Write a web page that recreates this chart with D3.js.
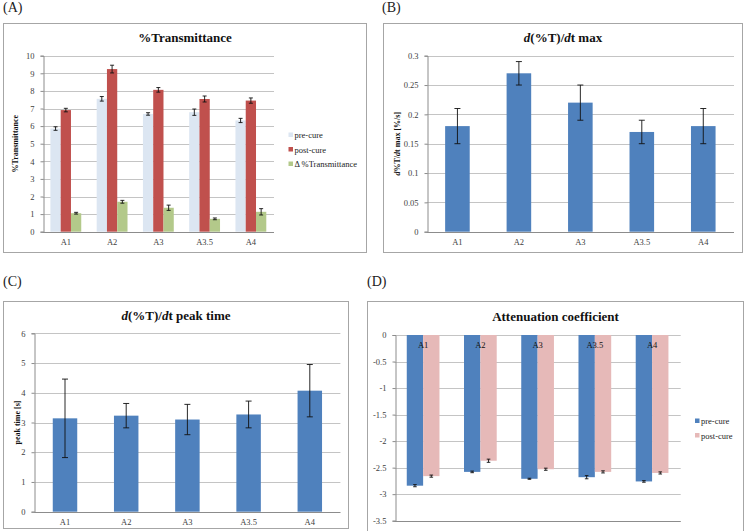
<!DOCTYPE html>
<html>
<head>
<meta charset="utf-8">
<script src="https://cdn.jsdelivr.net/npm/d3@7"></script>
<style>
  body { margin: 0; background: #fff; }
  svg text { font-family: "Liberation Serif", "DejaVu Serif", serif; }
</style>
</head>
<body>
<svg id="fig" width="747" height="531"></svg>
<script>
// categories shared by all four panels
const categories = ["A1", "A2", "A3", "A3.5", "A4"];

// (A) %Transmittance
const transPre = [5.86, 7.55, 6.69, 6.79, 6.32];
const transPreErr = [0.1, 0.13, 0.07, 0.18, 0.12];
const transPost = [6.91, 9.24, 8.06, 7.54, 7.45];
const transPostErr = [0.1, 0.22, 0.13, 0.17, 0.15];
const transDelta = [1.05, 1.7, 1.36, 0.73, 1.13];
const transDeltaErr = [0.05, 0.08, 0.15, 0.05, 0.18];
const ticksA = [0, 1, 2, 3, 4, 5, 6, 7, 8, 9, 10];

// (B) d(%T)/dt max
const dtMax = [0.18, 0.27, 0.22, 0.17, 0.18];
const dtMaxErr = [0.03, 0.02, 0.03, 0.02, 0.03];
const ticksB = [0, 0.05, 0.1, 0.15, 0.2, 0.25, 0.3];

// (C) d(%T)/dt peak time
const peakTime = [3.14, 3.23, 3.1, 3.27, 4.07];
const peakTimeErr = [1.32, 0.41, 0.51, 0.45, 0.88];
const ticksC = [0, 1, 2, 3, 4, 5, 6];

// (D) Attenuation coefficient
const attenPre = [-2.84, -2.58, -2.71, -2.68, -2.76];
const attenPreErr = [0.02, 0.015, 0.01, 0.03, 0.015];
const attenPost = [-2.66, -2.37, -2.53, -2.58, -2.6];
const attenPostErr = [0.02, 0.03, 0.02, 0.02, 0.02];
const ticksD = [0, -0.5, -1, -1.5, -2, -2.5, -3, -3.5];

const FONT = "Liberation Serif, DejaVu Serif, serif";
const GRID = "#c4c4c4";
const AXIS = "#8c8c8c";
const TXT = "#404040";

const svg = d3.select("#fig");
svg.append("rect").attr("width", 747).attr("height", 531).attr("fill", "#fff");

// draws one excel-like bar panel
function barPanel(p) {
    let g = svg.append("g").attr("font-family", FONT);

    // panel letter
    g.append("text")
        .attr("x", p.letter[0]).attr("y", p.letter[1])
        .attr("font-size", 14).attr("fill", "#222")
        .text(p.label);

    // chart frame
    g.append("rect")
        .attr("x", p.box.x).attr("y", p.box.y)
        .attr("width", p.box.w).attr("height", p.box.h)
        .attr("fill", "#fff").attr("stroke", "#a6a6a6").attr("stroke-width", 1);

    let yScale = d3.scaleLinear().domain(p.domain).range([p.plot.y1, p.plot.y0]);
    let x0 = d3.scaleBand().domain(categories).range([p.plot.x0, p.plot.x1]).padding(0);
    let names = p.series.map(s => s.name);
    let x1 = d3.scaleBand().domain(names).range([0, x0.bandwidth()])
        .paddingInner(0).paddingOuter(0.75);

    // gridlines
    g.append("g")
        .selectAll("line")
        .data(p.ticks)
        .join("line")
        .attr("x1", p.plot.x0).attr("x2", p.plot.x1)
        .attr("y1", d => Math.round(yScale(d)) + 0.5)
        .attr("y2", d => Math.round(yScale(d)) + 0.5)
        .attr("stroke", GRID).attr("stroke-width", 1);

    // y axis
    let yAxis = g.append("g")
        .attr("transform", `translate(${Math.round(p.plot.x0) + 0.5},0)`)
        .call(d3.axisLeft(yScale).tickValues(p.ticks).tickSize(3).tickPadding(6));
    yAxis.attr("font-family", FONT);
    yAxis.select(".domain").attr("stroke", AXIS);
    yAxis.selectAll(".tick line").attr("stroke", AXIS);
    yAxis.selectAll(".tick text")
        .attr("font-family", FONT).attr("font-size", 8.5).attr("fill", TXT)
        .text(d => d < 0 ? "-" + Math.abs(d) : d);

    // bars
    p.series.forEach(s => {
        g.append("g")
            .selectAll("rect")
            .data(categories)
            .join("rect")
            .attr("x", (d, i) => x0(d) + x1(s.name))
            .attr("y", (d, i) => Math.min(yScale(s.values[i]), yScale(0)))
            .attr("width", x1.bandwidth())
            .attr("height", (d, i) => Math.abs(yScale(s.values[i]) - yScale(0)))
            .attr("fill", s.color);
    });

    // x axis line at baseline (or bottom for negative chart)
    let baseY = Math.round(yScale(p.axisAt)) + 0.5;
    g.append("line")
        .attr("x1", p.plot.x0).attr("x2", p.plot.x1)
        .attr("y1", baseY).attr("y2", baseY)
        .attr("stroke", AXIS);

    // category labels
    g.append("g")
        .selectAll("text")
        .data(categories)
        .join("text")
        .attr("x", d => x0(d) + x0.bandwidth() / 2)
        .attr("y", p.catY)
        .attr("text-anchor", "middle")
        .attr("font-size", 8.5).attr("fill", p.catColor || TXT)
        .text(d => d);

    // error bars
    p.series.forEach(s => {
        let eb = g.append("g").attr("stroke", "#111").attr("stroke-width", 0.9);
        categories.forEach((c, i) => {
            let cx = x0(c) + x1(s.name) + x1.bandwidth() / 2;
            let hi = yScale(s.values[i] + s.err[i]);
            let lo = yScale(s.values[i] - s.err[i]);
            eb.append("line").attr("x1", cx).attr("x2", cx).attr("y1", hi).attr("y2", lo);
            eb.append("line").attr("x1", cx - p.cap).attr("x2", cx + p.cap).attr("y1", hi).attr("y2", hi);
            eb.append("line").attr("x1", cx - p.cap).attr("x2", cx + p.cap).attr("y1", lo).attr("y2", lo);
        });
    });

    // title
    let title = g.append("text")
        .attr("x", p.box.x + p.box.w / 2).attr("y", p.titleY)
        .attr("text-anchor", "middle")
        .attr("font-size", 13).attr("font-weight", "bold").attr("fill", "#111");
    p.title.forEach(part => {
        title.append("tspan").attr("font-style", part[1] ? "italic" : "normal").text(part[0]);
    });

    // y axis title
    if (p.yTitle) {
        let cy = (p.plot.y0 + p.plot.y1) / 2;
        let yt = g.append("text")
            .attr("transform", `translate(${p.yTitleX},${cy}) rotate(-90)`)
            .attr("text-anchor", "middle")
            .attr("font-size", 8).attr("font-weight", "bold").attr("fill", "#111");
        p.yTitle.forEach(part => {
            yt.append("tspan").attr("font-style", part[1] ? "italic" : "normal").text(part[0]);
        });
    }

    // legend
    if (p.legend) {
        p.series.forEach((s, i) => {
            let ly = p.legend[1] + i * p.legend[2];
            g.append("rect")
                .attr("x", p.legend[0]).attr("y", ly - 2.5)
                .attr("width", 4.5).attr("height", 4.5)
                .attr("fill", s.color);
            g.append("text")
                .attr("x", p.legend[0] + 6).attr("y", ly + 3)
                .attr("font-size", 8.5).attr("fill", "#222")
                .text(s.label);
        });
    }
}

barPanel({
    label: "(A)", letter: [3, 12],
    box: { x: 3.5, y: 23.5, w: 363, h: 229 },
    plot: { x0: 42.7, x1: 274, y0: 55.7, y1: 231.7 },
    domain: [0, 10], ticks: ticksA, axisAt: 0,
    series: [
        { name: "pre", label: "pre-cure", values: transPre, err: transPreErr, color: "#dce6f2" },
        { name: "post", label: "post-cure", values: transPost, err: transPostErr, color: "#c0504d" },
        { name: "delta", label: "\u0394 %Transmittance", values: transDelta, err: transDeltaErr, color: "#b3c98a" }
    ],
    cap: 2, catY: 245,
    title: [["%Transmittance", false]], titleY: 42,
    yTitle: [["%Transmittance", false]], yTitleX: 18,
    legend: [288.5, 135, 14.5]
});

barPanel({
    label: "(B)", letter: [382, 12],
    box: { x: 383.5, y: 23.5, w: 359, h: 229 },
    plot: { x0: 426.7, x1: 734, y0: 55.7, y1: 231.7 },
    domain: [0, 0.3], ticks: ticksB, axisAt: 0,
    series: [
        { name: "v", label: "", values: dtMax, err: dtMaxErr, color: "#4f81bd" }
    ],
    cap: 3, catY: 245,
    title: [["d", true], ["(%T)/", false], ["d", true], ["t  max", false]], titleY: 42,
    yTitle: [["d", true], ["%T/", false], ["d", true], ["t max  [%/s]", false]], yTitleX: 400
});

barPanel({
    label: "(C)", letter: [3, 286],
    box: { x: 3.5, y: 301.5, w: 345, h: 227 },
    plot: { x0: 34.4, x1: 340.4, y0: 333.3, y1: 511.7 },
    domain: [0, 6], ticks: ticksC, axisAt: 0,
    series: [
        { name: "v", label: "", values: peakTime, err: peakTimeErr, color: "#4f81bd" }
    ],
    cap: 3, catY: 524.5,
    title: [["d", true], ["(%T)/", false], ["d", true], ["t  peak time", false]], titleY: 320,
    yTitle: [["peak time [s]", false]], yTitleX: 20
});

barPanel({
    label: "(D)", letter: [367, 286],
    box: { x: 367.5, y: 301.5, w: 376, h: 240 },
    plot: { x0: 394.5, x1: 680.7, y0: 335, y1: 520.7 },
    domain: [-3.5, 0], ticks: ticksD, axisAt: -3.5,
    series: [
        { name: "pre", label: "pre-cure", values: attenPre, err: attenPreErr, color: "#4f81bd" },
        { name: "post", label: "post-cure", values: attenPost, err: attenPostErr, color: "#e6b9b8" }
    ],
    cap: 1.8, catY: 348, catColor: "#111",
    title: [["Attenuation  coefficient", false]], titleY: 321,
    legend: [695, 421, 14.5]
});
</script>
</body>
</html>
